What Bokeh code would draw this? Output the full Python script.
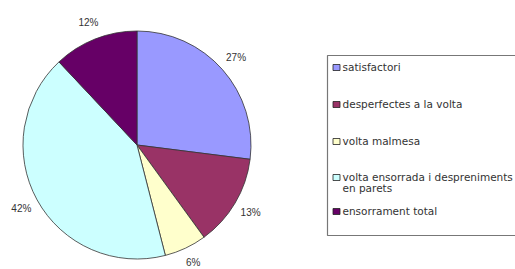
import math
from bokeh.plotting import figure
from bokeh.models import Range1d, ColumnDataSource
from bokeh.core.properties import value
from bokeh.embed import file_html
from bokeh.resources import INLINE

categories = ["satisfactori", "desperfectes a la volta", "volta malmesa",
              "volta ensorrada i despreniments\nen parets", "ensorrament total"]
values = [27, 13, 6, 42, 12]
colors = ["#9999FF", "#993366", "#FFFFCC", "#CCFFFF", "#660066"]

W, H = 515, 269
OX, OY = 0, 0          # page offset of the figure
PAGE_H = 269

def py(y):  # page y -> data y
    return PAGE_H - y

p = figure(width=W, height=H, output_backend="svg", toolbar_location=None,
           x_range=Range1d(OX, OX + W), y_range=Range1d(PAGE_H - OY - H, PAGE_H - OY),
           min_border=0, x_axis_location=None, y_axis_location=None,
           outline_line_color=None, background_fill_color="white")
p.xgrid.visible = False
p.ygrid.visible = False

# pie geometry
cx, cy, r = 136.5, py(144.5), 114
total = sum(values)
starts, ends, mids = [], [], []
acc = 0
for v in values:
    a0 = acc / total * 2 * math.pi
    acc += v
    a1 = acc / total * 2 * math.pi
    starts.append(math.pi / 2 - a0)
    ends.append(math.pi / 2 - a1)
    mids.append((a0 + a1) / 2)

src = ColumnDataSource(dict(start=starts, end=ends, color=colors))
p.wedge(x=cx, y=cy, radius=r, start_angle="start", end_angle="end", direction="clock",
        fill_color="color", line_color="#333333", line_width=0.8, source=src)

# percentage labels
lr = 132
lx = [cx + lr * math.sin(m) for m in mids]
ly = [cy + lr * math.cos(m) for m in mids]
ly = [max(y, py(262)) for y in ly]   # keep the bottom label inside the picture
lt = [f"{round(v / total * 100)}%" for v in values]
p.text(x=lx, y=ly, text=lt, text_align="center", text_baseline="middle",
       text_font=value("Liberation Sans"), text_font_size="10px", text_color="#333333")

# legend box
bx0, bx1, by0, by1 = 327, 520, 55, 235
p.quad(left=bx0, right=bx1, top=py(by0), bottom=py(by1), fill_color="white",
       line_color="#777777", line_width=1.2)

row_y = [67, 104, 141, 177, 211]
sw_x = [336] * len(categories)
sw_y = [py(y) for y in row_y]
p.rect(x=sw_x, y=sw_y, width=7, height=6, fill_color=colors, line_color="#222222", line_width=0.8)
p.text(x=[342] * len(categories), y=[py(y - 6.5) for y in row_y], text=categories,
       text_align="left", text_baseline="top", text_line_height=0.95,
       text_font=value("DejaVu Sans"), text_font_size="10.5px", text_color="#333333")

open("out.html", "w").write(file_html(p, INLINE))
